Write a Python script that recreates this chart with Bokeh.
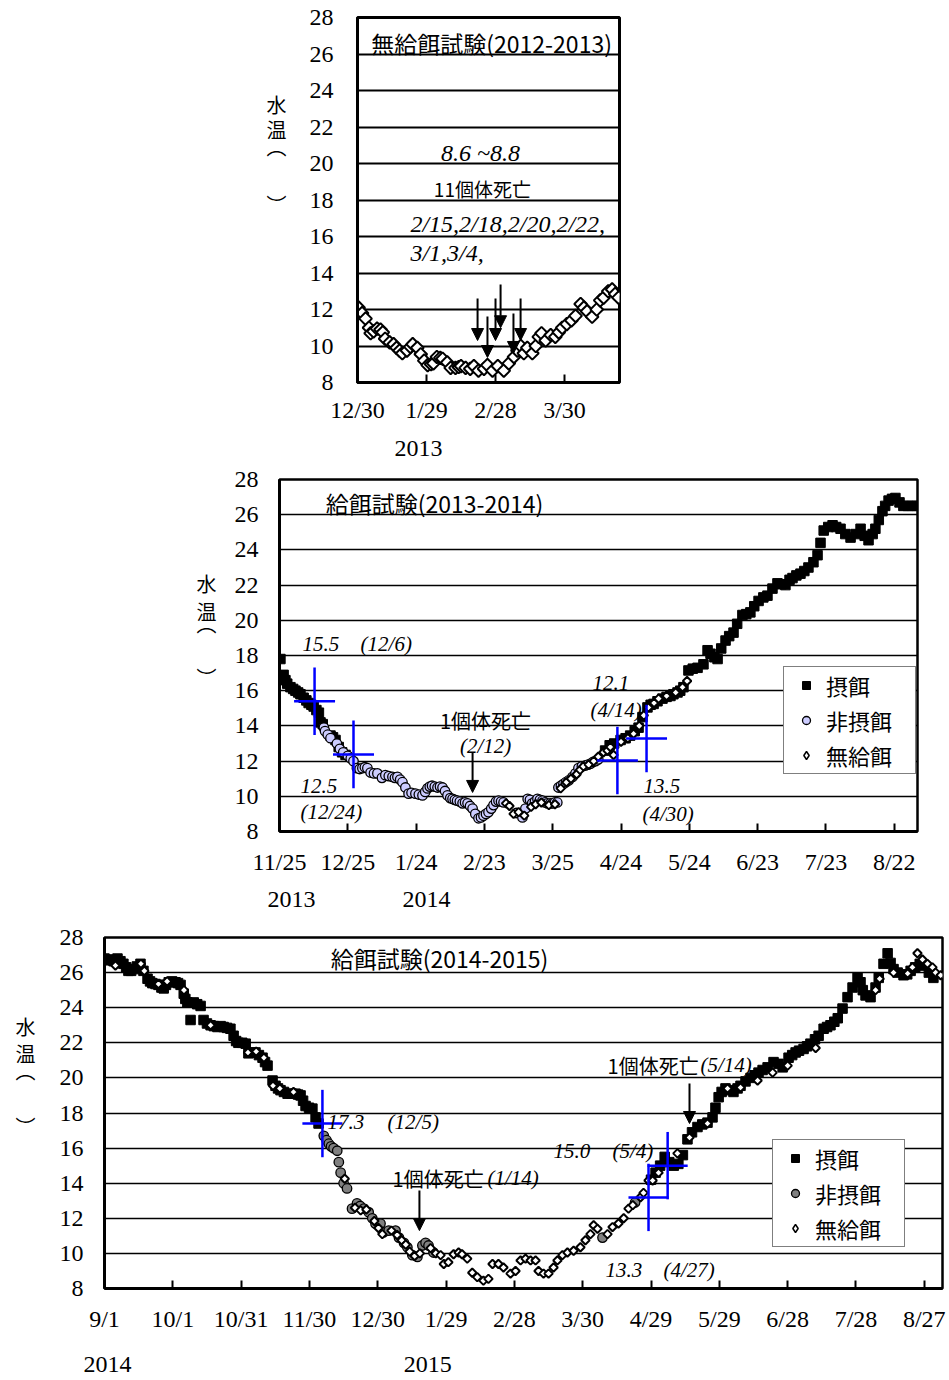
import numpy as np
from bokeh.plotting import figure
from bokeh.models import (FixedTicker, Label, Arrow, NormalHead, ColumnDataSource,
                          Legend, LegendItem, Range1d, LinearAxis)
from bokeh.embed import file_html
from bokeh.resources import INLINE

SERIF = "Liberation Serif"
SANS = "Noto Sans CJK JP"

# ---------------- Panel 1: 無給餌試験 (2012-2013); x = days since 2012-12-30
p1_ticks = [0, 30, 60, 90]
p1_tick_labels = ["12/30", "1/29", "2/28", "3/30"]
p1_unfed_day = [0.5, 2.0, 3.5, 5.0, 5.7, 7.0, 8.5, 10.0, 11.0, 12.0,
                14.0, 15.7, 17.0, 18.3, 19.5, 21.5, 23.0, 24.0, 26.0, 27.5,
                29.0, 30.5, 32.0, 33.0, 34.5, 36.0, 37.0, 39.0, 40.5, 42.6,
                44.0, 45.0, 47.0, 49.0, 50.6, 52.6, 55.0, 56.5, 58.7, 61.0,
                63.6, 65.8, 68.0, 69.5, 71.0, 72.3, 73.8, 76.0, 77.5, 78.8,
                80.0, 81.8, 84.0, 86.0, 87.5, 89.0, 91.0, 93.0, 94.8, 97.0,
                98.4, 99.8, 102.0, 104.0, 105.5, 107.0, 109.0, 110.7, 112.0, 113.5]
p1_unfed_temp = [12.1, 11.8, 11.5, 11.0, 10.7, 10.8, 10.95, 10.9, 10.75, 10.4,
                 10.2, 10.1, 9.9, 9.75, 9.6, 9.75, 9.95, 10.1, 9.9, 9.55,
                 9.2, 8.95, 9.0, 9.05, 9.4, 9.35, 9.3, 9.1, 8.8, 8.8,
                 8.85, 8.9, 8.8, 8.75, 8.9, 8.65, 8.75, 8.95, 8.65, 8.9,
                 8.65, 9.05, 9.4, 9.75, 10.0, 9.6, 9.9, 9.6, 10.0, 10.5,
                 10.7, 10.3, 10.6, 10.5, 10.75, 11.0, 11.2, 11.4, 11.65, 12.3,
                 12.1, 11.9, 11.6, 12.0, 12.5, 12.65, 13.0, 13.1, 12.85, 12.65]
p1_death_day = [52.2, 56.5, 60.0, 62.2, 67.8, 70.9]
p1_arrow_top = [12.6, 11.62, 12.6, 13.37, 11.78, 12.6]
p1_arrow_tip = [10.3, 9.37, 10.3, 11.0, 9.59, 10.3]
p1_year_pos = [26.5]
p1_year_labels = ["2013"]

# ---------------- Panel 2: 給餌試験 (2013-2014); x = days since 2013-11-25
p2_ticks = [0, 30, 60, 90, 120, 150, 180, 210, 240, 270]
p2_tick_labels = ["11/25", "12/25", "1/24", "2/23", "3/25", "4/24", "5/24", "6/23", "7/23", "8/22"]
p2_feed_day = [0.4, 1.8, 2.6, 3.4, 4.8, 6.0, 7.0, 8.2, 9.2, 10.6,
               11.8, 12.8, 14.0, 15.0, 16.2, 17.3, 18.0, 19.0, 22.4, 23.5,
               24.6, 26.0, 27.5, 29.0,
               143.0, 145.0, 147.0, 149.8, 152.0, 154.0, 156.0, 157.7, 159.4, 161.6,
               163.0, 164.3, 166.0, 168.2, 170.0, 171.7, 173.0, 174.8, 176.0, 177.4,
               179.6, 181.5, 183.6, 186.2, 188.0, 189.3, 191.0, 192.4, 194.0, 195.9,
               197.5, 199.4, 201.0, 203.3, 205.0, 206.8, 208.5, 210.4, 212.5, 214.3,
               216.5, 218.7, 220.5, 222.2, 224.0, 225.3, 227.0, 228.8, 230.5, 232.3,
               234.5, 236.3, 237.6, 239.0, 241.0, 242.9, 244.5, 246.4, 248.5, 250.8,
               253.0, 255.2, 257.0, 258.7, 260.5, 261.7, 263.2, 264.8, 266.0, 267.5,
               269.0, 270.5, 272.3, 274.0, 276.0, 278.0, 280.0]
p2_feed_temp = [17.8, 16.9, 16.6, 16.4, 16.2, 16.1, 16.0, 15.9, 15.8, 15.6,
                15.45, 15.3, 15.2, 15.1, 14.9, 14.75, 14.2, 14.1, 13.45, 13.35,
                13.2, 12.8, 12.5, 12.35,
                12.6, 12.9, 13.0, 13.2, 13.3, 13.45, 13.7, 13.9, 14.5, 15.05,
                15.2, 15.25, 15.4, 15.55, 15.65, 15.7, 15.8, 15.9, 16.0, 16.2,
                17.15, 17.25, 17.3, 17.5, 18.3, 18.1, 17.9, 17.8, 18.4, 18.85,
                19.1, 19.3, 19.8, 20.3, 20.35, 20.45, 20.8, 21.1, 21.3, 21.4,
                21.8, 22.1, 22.05, 22.0, 22.3, 22.4, 22.55, 22.65, 22.8, 23.0,
                23.3, 23.7, 24.4, 25.1, 25.3, 25.4, 25.3, 25.2, 24.9, 24.7,
                24.9, 25.2, 24.8, 24.55, 24.9, 25.2, 25.7, 26.2, 26.5, 26.8,
                26.9, 26.95, 26.7, 26.5, 26.5, 26.5, 26.5]
p2_nofeed_day = [19.5, 20.0, 21.2, 22.4, 25.2, 26.5, 28.0, 30.0, 31.3, 32.5,
                 34.0, 35.2, 36.4, 37.5, 38.6, 40.0, 41.5, 43.0, 45.0, 46.5,
                 48.0, 49.6, 50.7, 51.8, 53.0, 54.0, 55.3, 56.7, 58.0, 59.7,
                 61.2, 62.8, 64.0, 65.0, 66.0, 67.0, 68.2, 69.4, 70.5, 71.6,
                 72.7, 73.8, 75.0, 76.0, 77.0, 78.0, 79.2, 80.4, 81.5, 82.6,
                 83.7, 84.8, 86.0, 87.4, 88.5, 89.6, 90.7, 91.8, 93.0, 94.0,
                 95.1, 96.2, 97.3, 98.4, 104.0, 106.7, 108.0, 109.0, 110.0, 111.0,
                 112.2, 113.3, 114.4, 115.5, 116.6, 117.7, 119.0, 120.0, 121.0, 122.0,
                 122.5, 123.6, 124.7, 125.8, 127.0, 128.7, 130.0, 131.3, 132.8, 134.4,
                 135.5, 136.6, 137.7, 138.8, 140.0]
p2_nofeed_temp = [13.9, 13.7, 13.5, 13.3, 13.0, 12.7, 12.5, 12.3, 12.15, 12.0,
                  11.6, 11.55, 11.6, 11.65, 11.6, 11.35, 11.3, 11.3, 11.05, 11.2,
                  11.15, 11.1, 11.05, 11.1, 10.95, 10.8, 10.5, 10.15, 10.2, 10.15,
                  10.1, 10.05, 10.25, 10.45, 10.55, 10.6, 10.55, 10.5, 10.55, 10.5,
                  10.3, 10.05, 9.9, 9.85, 9.8, 9.75, 9.7, 9.6, 9.65, 9.6,
                  9.45, 9.3, 9.0, 8.75, 8.8, 8.9, 9.0, 9.1, 9.3, 9.5,
                  9.7, 9.75, 9.7, 9.65, 9.05, 8.8, 9.3, 9.85, 9.8, 9.6,
                  9.7, 9.85, 9.8, 9.75, 9.65, 9.6, 9.6, 9.6, 9.65, 9.65,
                  10.5, 10.6, 10.7, 10.8, 10.9, 11.1, 11.3, 11.6, 11.7, 11.75,
                  11.8, 11.85, 11.95, 12.0, 12.1]
p2_unfed_day = [99.5, 101.0, 102.8, 105.0, 107.5, 110.5, 112.5, 115.0, 118.3, 121.0,
                123.5, 126.0, 128.0, 130.5, 132.0, 133.5, 135.8, 138.0, 140.0, 142.3,
                144.0, 145.3, 146.7, 150.0, 153.0, 155.5, 158.0, 160.0, 162.0, 164.5,
                166.5, 170.0, 174.0, 177.0, 179.0]
p2_unfed_temp = [9.6, 9.45, 9.0, 9.1, 8.9, 9.4, 9.55, 9.65, 9.5, 9.55,
                 10.45, 10.8, 11.0, 11.25, 11.5, 11.7, 11.8, 12.0, 12.25, 12.5,
                 12.6, 12.8, 12.35, 13.1, 13.3, 13.55, 14.0, 14.6, 15.05, 15.3,
                 15.55, 15.7, 15.9, 16.2, 16.55]
p2_cross_day = [15.4, 32.5, 148.4, 161.2]
p2_cross_temp = [15.4, 12.38, 12.03, 13.28]
p2_death_day = [84.8]
p2_arrow_top = [12.49]
p2_arrow_tip = [10.22]
p2_year_pos = [5.3, 64.6]
p2_year_labels = ["2013", "2014"]

# ---------------- Panel 3: 給餌試験 (2014-2015); x = days since 2014-09-01
p3_ticks = [0, 30, 60, 90, 120, 150, 180, 210, 240, 270, 300, 330, 360]
p3_tick_labels = ["9/1", "10/1", "10/31", "11/30", "12/30", "1/29", "2/28",
                  "3/30", "4/29", "5/29", "6/28", "7/28", "8/27"]
p3_feed_day = [0.0, 1.5, 2.6, 4.0, 5.7, 7.0, 8.3, 9.5, 10.5, 11.7,
               12.8, 14.2, 15.8, 17.1, 18.9, 20.0, 21.0, 22.4, 23.7, 25.0,
               26.0, 27.0, 28.2, 29.7, 31.2, 32.3, 33.4, 34.8, 35.5, 36.4,
               37.8, 39.2, 40.7, 42.2, 43.5, 45.0, 46.6, 48.0, 49.6, 51.0,
               52.3, 53.8, 55.3, 56.7, 57.8, 58.8, 60.5, 62.0, 63.2, 64.8,
               66.3, 67.8, 69.4, 70.5, 71.6, 73.8, 75.1, 76.2, 77.3, 78.8,
               80.4, 82.2, 83.9, 85.0, 86.1, 87.2, 88.3, 89.8, 91.3, 92.7,
               94.0,
               240.0, 242.0, 244.0, 246.0, 248.0, 250.0, 252.0, 254.0, 256.0, 258.0,
               260.4, 262.5, 264.8, 267.0, 268.3, 269.7, 271.0, 272.7, 274.5, 276.2,
               278.0, 279.3, 281.5, 283.7, 285.5, 287.2, 289.0, 291.2, 293.8, 296.0,
               297.8, 300.4, 302.0, 303.5, 305.0, 307.0, 308.5, 310.0, 312.0, 313.6,
               315.8, 317.3, 318.8, 320.5, 322.0, 324.1, 326.3, 328.5, 330.7, 332.0,
               333.0, 334.2, 336.4, 338.6, 340.0, 342.1, 343.9, 345.2, 346.5, 348.3,
               350.9, 352.5, 354.0, 356.0, 358.0, 360.0, 362.0, 364.0]
p3_feed_temp = [26.8, 26.75, 26.7, 26.65, 26.8, 26.65, 26.5, 26.3, 26.1, 26.1,
                26.2, 26.35, 26.5, 26.1, 25.65, 25.5, 25.4, 25.35, 25.3, 25.15,
                25.1, 25.3, 25.45, 25.5, 25.45, 25.4, 25.3, 24.8, 24.5, 24.3,
                23.3, 24.3, 24.2, 24.1, 23.3, 23.1, 23.0, 22.95, 22.9, 22.95,
                22.9, 22.85, 22.8, 22.4, 22.1, 22.0, 22.0, 21.95, 21.4, 21.45,
                21.45, 21.3, 21.15, 20.9, 20.7, 19.85, 19.55, 19.4, 19.3, 19.2,
                19.1, 19.1, 19.1, 19.05, 19.0, 18.7, 18.4, 18.3, 18.25, 17.75,
                17.4,
                14.2, 14.6, 15.0, 15.5, 15.2, 15.0, 15.1, 15.6, 16.5, 16.9,
                17.2, 17.35, 17.45, 17.75, 18.3, 18.9, 19.2, 19.4, 19.3, 19.2,
                19.4, 19.55, 19.8, 20.0, 20.15, 20.3, 20.45, 20.6, 20.9, 20.8,
                20.6, 21.15, 21.3, 21.45, 21.55, 21.65, 21.8, 21.95, 22.2, 22.4,
                22.8, 22.9, 23.0, 23.2, 23.4, 23.95, 24.6, 25.15, 25.7, 25.45,
                25.0, 24.7, 24.6, 25.15, 25.7, 26.5, 27.1, 26.55, 26.2, 26.0,
                25.85, 25.9, 26.1, 26.3, 26.5, 26.4, 26.0, 25.7]
p3_nofeed_day = [96.3, 97.5, 98.5, 99.5, 100.6, 102.2, 102.9, 103.7, 105.0, 106.5,
                 108.7, 110.9, 112.3, 113.9, 116.0, 117.6, 119.0, 121.2, 122.5, 124.8,
                 127.8, 129.3, 131.5, 133.0, 135.2, 137.4, 139.6, 141.0, 142.3, 144.5,
                 218.7, 233.0]
p3_nofeed_temp = [16.7, 16.45, 16.25, 16.1, 16.0, 15.85, 15.2, 14.6, 14.0, 13.7,
                  12.55, 12.85, 12.7, 12.55, 12.35, 12.0, 11.7, 11.7, 11.2, 11.3,
                  11.3, 10.9, 10.6, 10.35, 9.9, 9.8, 10.45, 10.6, 10.45, 10.05,
                  10.9, 12.9]
p3_unfed_day = [4.8, 16.0, 17.5, 23.7, 27.5, 34.9, 46.6, 63.0, 66.6, 70.0,
                74.0, 77.0, 83.0,
                105.5, 110.0, 112.5, 115.0, 118.5, 120.3, 122.0, 126.0, 128.5, 130.5,
                132.3, 134.0, 136.2, 138.5, 143.2, 145.5, 147.6, 149.0, 151.0, 153.3,
                155.5, 157.0, 159.3, 161.5, 163.7, 166.4, 168.6, 170.4, 173.0, 175.2,
                178.3, 180.5, 182.7, 184.9, 187.1, 189.3, 190.6, 192.8, 195.0, 197.2,
                198.9, 201.1, 203.3, 206.0, 209.0, 211.2, 213.4, 214.8, 216.5, 220.9,
                223.1, 225.7, 228.0, 230.1, 232.0, 235.4, 236.7, 238.9, 240.7, 243.3,
                251.6, 256.9, 264.8, 273.6, 279.3, 286.8, 293.4, 300.0, 312.3, 338.6,
                340.4, 346.5, 352.7, 354.8, 357.0, 359.2, 361.4, 363.6, 365.0, 367.2]
p3_unfed_temp = [26.4, 26.5, 26.1, 25.35, 25.5, 25.0, 23.0, 21.45, 21.5, 21.15,
                 19.55, 19.4, 19.2,
                 14.25, 12.6, 12.45, 12.5, 11.85, 11.45, 11.1, 11.3, 11.05, 10.75,
                 10.5, 10.1, 9.85, 10.0, 10.3, 10.0, 9.9, 9.4, 9.5, 9.95,
                 10.05, 9.95, 9.7, 8.9, 8.65, 8.45, 8.55, 9.4, 9.4, 9.2,
                 8.85, 9.0, 9.6, 9.7, 9.6, 9.6, 9.0, 8.85, 8.85, 9.2,
                 9.6, 9.9, 10.05, 10.15, 10.35, 10.75, 11.1, 11.6, 11.4, 11.1,
                 11.5, 11.7, 12.0, 12.55, 12.75, 13.2, 13.45, 14.15, 14.15, 14.6,
                 15.7, 16.6, 17.4, 19.4, 19.45, 19.85, 20.3, 20.7, 21.7, 25.0,
                 25.65, 26.0, 25.95, 26.3, 27.1, 26.75, 26.5, 26.3, 26.0, 25.85]
p3_cross_day = [95.7, 238.9, 247.3]
p3_cross_temp = [17.4, 13.19, 15.0]
p3_death_day = [138.3, 256.9]
p3_arrow_top = [13.58, 19.68]
p3_arrow_tip = [11.3, 17.4]
p3_year_pos = [1.3, 141.9]
p3_year_labels = ["2014", "2015"]

legend_labels = ["摂餌", "非摂餌", "無給餌"]
ylabel_chars = ["水", "温", "︵", "︶"]


def make_fig(width, height, left, right, top, bottom, xmax, ticks, labels,
             ystand, xstand, outline_w, grid_w=1.5):
    p = figure(width=width, height=height, x_range=Range1d(0, xmax), y_range=Range1d(8, 28),
               output_backend="svg", toolbar_location=None,
               min_border_left=left, min_border_right=right,
               min_border_top=top, min_border_bottom=bottom)
    p.background_fill_color = "white"
    p.border_fill_color = "white"
    p.outline_line_color = "black"
    p.outline_line_width = outline_w
    p.outline_line_alpha = 1.0
    p.xgrid.visible = False
    p.ygrid.ticker = FixedTicker(ticks=list(range(10, 28, 2)))
    p.ygrid.grid_line_color = "black"
    p.ygrid.grid_line_width = grid_w
    xa = p.xaxis[0]
    xa.ticker = FixedTicker(ticks=ticks)
    xa.major_label_overrides = {t: l for t, l in zip(ticks, labels)}
    xa.major_tick_in = 8
    xa.major_tick_out = 0
    xa.major_tick_line_width = 2
    xa.major_tick_line_color = "black"
    xa.minor_tick_line_color = None
    xa.axis_line_width = 3
    xa.axis_line_color = "black"
    xa.major_label_text_font = SERIF
    xa.major_label_text_font_size = "24px"
    xa.major_label_text_color = "black"
    xa.major_label_standoff = xstand
    ya = p.yaxis[0]
    ya.ticker = FixedTicker(ticks=list(range(8, 30, 2)))
    ya.major_tick_in = 0
    ya.major_tick_out = 0
    ya.minor_tick_line_color = None
    ya.axis_line_width = 3
    ya.axis_line_color = "black"
    ya.major_label_text_font = SERIF
    ya.major_label_text_font_size = "24px"
    ya.major_label_text_color = "black"
    ya.major_label_standoff = ystand
    return p


def text_axis(ticks, labels, font, size, standoff):
    ax = LinearAxis(ticker=FixedTicker(ticks=ticks),
                    major_label_overrides={t: l for t, l in zip(ticks, labels)})
    ax.axis_line_color = None
    ax.major_tick_line_color = None
    ax.minor_tick_line_color = None
    ax.major_tick_in = 0
    ax.major_tick_out = 0
    ax.major_label_text_font = font
    ax.major_label_text_font_size = size
    ax.major_label_text_color = "black"
    ax.major_label_standoff = standoff
    return ax


def add_years(p, pos, labels, standoff):
    p.add_layout(text_axis(pos, labels, SERIF, "24px", standoff), "below")


def add_ylabel(p, ys, standoff, size="20px"):
    p.add_layout(text_axis(ys, ylabel_chars, SANS, size, standoff), "left")


def add_label(p, x, y, text, font=SERIF, size="21px", style="normal", align="left"):
    p.add_layout(Label(x=x, y=y, text=text, text_font=font, text_font_size=size,
                       text_font_style=style, text_align=align, text_baseline="middle",
                       text_color="black"))


def add_crosses(p, days, temps, dx=9.0, dy=1.92):
    p.segment(x0=days, y0=[t - dy for t in temps], x1=days, y1=[t + dy for t in temps],
              line_color="#0000ff", line_width=2.5)
    p.segment(x0=[d - dx for d in days], y0=temps, x1=[d + dx for d in days], y1=temps,
              line_color="#0000ff", line_width=2.5)


def add_arrows(p, xs, tops, tips):
    src = ColumnDataSource(dict(x=xs, y0=tops, y1=tips))
    p.add_layout(Arrow(end=NormalHead(size=12, fill_color="black", line_color="black", line_width=1),
                       x_start="x", y_start="y0", x_end="x", y_end="y1", source=src,
                       line_width=2, line_color="black"))


def add_legend(p, nofeed_fill, loc):
    # one off-range point each, so that the legend has a glyph to draw
    r1 = p.scatter(x=[-1000], y=[-1000], marker="square", fill_color="black", line_color="black")
    r2 = p.scatter(x=[-1000], y=[-1000], marker="circle", fill_color=nofeed_fill,
                   line_color="black", line_width=1.3)
    r3 = p.scatter(x=[-1000], y=[-1000], marker="diamond", fill_color="white",
                   line_color="black", line_width=1.5)
    items = [LegendItem(label=l, renderers=[r]) for l, r in zip(legend_labels, [r1, r2, r3])]
    lg = Legend(items=items, location=loc)
    lg.border_line_color = "black"
    lg.border_line_width = 1.5
    lg.background_fill_color = "white"
    lg.background_fill_alpha = 1.0
    lg.label_text_font = SANS
    lg.label_text_font_size = "22px"
    lg.label_text_color = "black"
    lg.glyph_width = 40
    lg.glyph_height = 20
    lg.label_height = 27
    lg.label_width = 87
    lg.label_standoff = 0
    lg.spacing = 3
    lg.padding = 2
    lg.margin = 0
    p.add_layout(lg)


# ---------------- Figure 1
p1 = make_fig(949, 462, 357, 330, 17, 80, 113.9, p1_ticks, p1_tick_labels, 24, 14, 3, 2)
p1.scatter(p1_unfed_day, p1_unfed_temp, marker="square", angle=np.pi / 4, size=9,
           fill_color="white", line_color="black", line_width=2)
add_arrows(p1, p1_death_day, p1_arrow_top, p1_arrow_tip)
add_label(p1, 58.3, 26.63, "無給餌試験(2012-2013)", font=SANS, size="23px", align="center")
add_label(p1, 53.5, 20.6, "8.6 ~8.8", style="italic", size="24px", align="center")
add_label(p1, 54.3, 18.63, "11個体死亡", font=SANS, size="19px", align="center")
add_label(p1, 23.0, 16.71, "2/15,2/18,2/20,2/22,", style="italic", size="24px")
add_label(p1, 23.0, 15.12, "3/1,3/4,", style="italic", size="24px")
add_years(p1, p1_year_pos, p1_year_labels, 15)
add_ylabel(p1, [23.23, 21.86, 20.93, 17.75], 20)

# ---------------- Figure 2
p2 = make_fig(949, 450, 279, 32, 17, 81, 280.2, p2_ticks, p2_tick_labels, 21, 17, 2.5)
p2.scatter(p2_feed_day, p2_feed_temp, marker="square", size=9.5, fill_color="black",
           line_color="black", line_width=1)
p2.scatter(p2_nofeed_day, p2_nofeed_temp, marker="circle", size=9.5, fill_color="#ccccff",
           line_color="black", line_width=1.3)
p2.scatter(p2_unfed_day, p2_unfed_temp, marker="square", angle=np.pi / 4, size=6,
           fill_color="white", line_color="black", line_width=2)
add_crosses(p2, p2_cross_day, p2_cross_temp)
add_arrows(p2, p2_death_day, p2_arrow_top, p2_arrow_tip)
add_label(p2, 68.1, 26.69, "給餌試験(2013-2014)", font=SANS, size="23px", align="center")
add_label(p2, 10.1, 18.68, "15.5", style="italic")
add_label(p2, 35.6, 18.68, "(12/6)", style="italic")
add_label(p2, 9.2, 10.56, "12.5", style="italic")
add_label(p2, 9.2, 9.08, "(12/24)", style="italic")
add_label(p2, 90.5, 14.31, "1個体死亡", font=SANS, size="20px", align="center")
add_label(p2, 90.5, 12.83, "(2/12)", style="italic", align="center")
add_label(p2, 137.5, 16.41, "12.1", style="italic")
add_label(p2, 136.6, 14.88, "(4/14)", style="italic")
add_label(p2, 159.9, 10.56, "13.5", style="italic")
add_label(p2, 159.4, 9.02, "(4/30)", style="italic")
add_years(p2, p2_year_pos, p2_year_labels, 14)
add_ylabel(p2, [22.09, 20.5, 19.82, 16.75], 15)
add_legend(p2, "#ccccff", (504, 57))

# ---------------- Figure 3
p3 = make_fig(949, 468, 104, 7, 25, 92, 368.0, p3_ticks, p3_tick_labels, 21, 17, 2.5)
p3.scatter(p3_feed_day, p3_feed_temp, marker="square", size=9.5, fill_color="black",
           line_color="black", line_width=1)
p3.scatter(p3_nofeed_day, p3_nofeed_temp, marker="circle", size=9.5, fill_color="#808080",
           line_color="black", line_width=1.3)
p3.scatter(p3_unfed_day, p3_unfed_temp, marker="square", angle=np.pi / 4, size=6,
           fill_color="white", line_color="black", line_width=2)
add_crosses(p3, p3_cross_day, p3_cross_temp, dx=8.8)
add_arrows(p3, p3_death_day, p3_arrow_top, p3_arrow_tip)
add_label(p3, 147.1, 26.86, "給餌試験(2014-2015)", font=SANS, size="23px", align="center")
add_label(p3, 97.9, 17.46, "17.3", style="italic")
add_label(p3, 124.3, 17.46, "(12/5)", style="italic")
add_label(p3, 126.5, 14.27, "1個体死亡", font=SANS, size="20px")
add_label(p3, 168.2, 14.27, "(1/14)", style="italic")
add_label(p3, 197.2, 15.86, "15.0", style="italic")
add_label(p3, 223.1, 15.86, "(5/4)", style="italic")
add_label(p3, 220.0, 9.03, "13.3", style="italic")
add_label(p3, 245.5, 9.03, "(4/27)", style="italic")
add_label(p3, 220.9, 20.71, "1個体死亡", font=SANS, size="20px")
add_label(p3, 261.7, 20.71, "(5/14)", style="italic")
add_years(p3, p3_year_pos, p3_year_labels, 22)
add_ylabel(p3, [22.93, 21.39, 20.42, 17.23], 21)
add_legend(p3, "#808080", (668, 41))

open("out.html", "w").write(file_html([p1, p2, p3], INLINE))
